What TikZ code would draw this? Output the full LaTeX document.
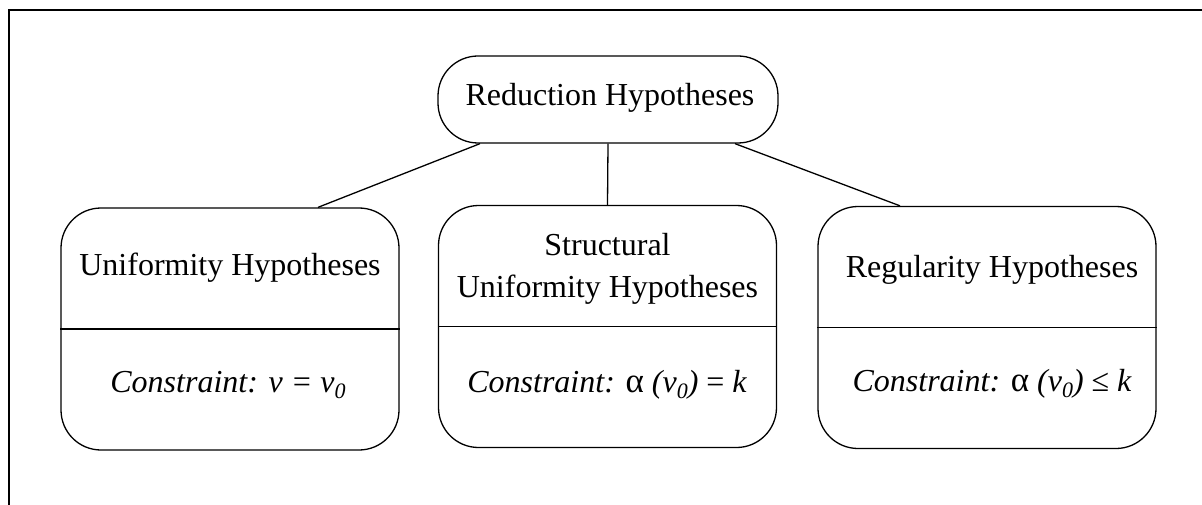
\documentclass[tikz,border=0pt]{standalone}
\usepackage{fontspec}
\setmainfont{Liberation Serif}
\usetikzlibrary{calc}

% italic subscript zero
\newcommand\subzero{\raisebox{-6.5pt}{\fontsize{22}{22}\selectfont\itshape 0}}
% upright, slightly enlarged alpha
\newcommand\alphachar{{\upshape\fontsize{35}{42}\selectfont α}}

\begin{document}
\begin{tikzpicture}[x=1pt,y=-1pt,
  every node/.style={font=\fontsize{32}{42}\selectfont, inner sep=0pt},
  topbox/.style={draw, line width=1.3pt, rounded corners=40pt,
    minimum width=340pt, minimum height=87pt},
  hypbox/.style={draw, line width=1.3pt, rounded corners=40pt,
    minimum width=338pt, minimum height=242pt},
  label/.style={anchor=base, align=center},
  link/.style={line width=1.3pt},
  frameline/.style={line width=2pt}]
  \useasboundingbox (0,0) rectangle (1202,505);

  % outer frame, cut off at right and bottom
  \coordinate (fA) at (8.5,505);
  \coordinate (fB) at (8.5,10);
  \coordinate (fC) at (1202,10);
  \draw[frameline] (fA) -- (fB) -- (fC);

  % root
  \node[topbox] (red) at (608,99.5) {};
  \node[label] (redt) at (610,106) {Reduction Hypotheses};

  % three kinds of hypotheses
  \node[hypbox] (uni) at (230,329) {};
  \node[hypbox] (str) at (607.5,326.5) {};
  \node[hypbox] (reg) at (987,327.5) {};

  \draw[line width=1.3pt] (uni.west) -- (uni.east);
  \draw[line width=1.3pt] (str.west) -- (str.east);
  \draw[line width=1.3pt] (reg.west) -- (reg.east);

  \node[label] (unit) at (230,275) {Uniformity Hypotheses};
  \node[label] (strt) at (607.5,297) {Structural\\Uniformity Hypotheses};
  \node[label] (regt) at (992,277) {Regularity Hypotheses};

  \node[label] (unic) at (228,392) {\itshape Constraint: v = v\subzero};
  \node[label] (strc) at (607,392) {\itshape Constraint: \alphachar{} (v\subzero) {\upshape =} k};
  \node[label] (regc) at (992,391) {\itshape Constraint: \alphachar{} (v\subzero) {\upshape ≤} k};

  % connectors
  \draw[link] ($(red.south)+(-128,0)$) -- ($(uni.north)+(88,0)$);
  \draw[link] (red.south) -- (str.north);
  \draw[link] ($(red.south)+(127,0)$) -- ($(reg.north)+(-87,0)$);
\end{tikzpicture}
\end{document}
